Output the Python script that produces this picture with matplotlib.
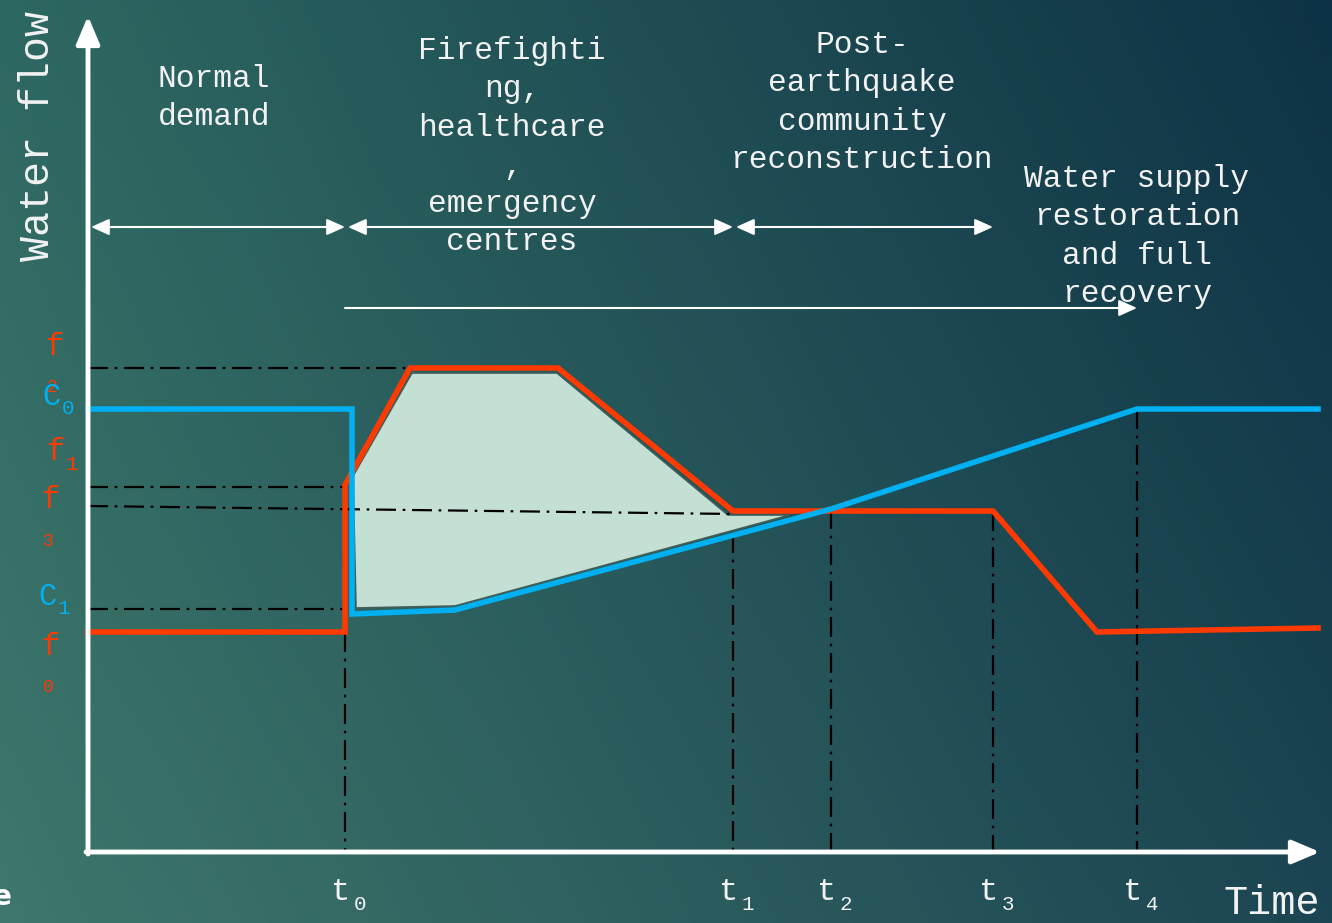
import numpy as np
import matplotlib.pyplot as plt

# canvas is laid out in pixel units (x right, y down)
W, H = 1332, 923

# time marks on the horizontal axis
t_labels = ["0", "1", "2", "3", "4"]
t_x = [345, 733, 831, 993, 1137]
t_y_top = [632, 533, 509, 511, 409]  # where each dash-dot drop line starts

# water demand f (red) and supply capacity C (blue)
red_x = [88, 345, 345, 410, 558, 733, 993, 1097, 1318]
red_y = [632, 632, 485, 368, 368, 511, 511, 632, 628]
blue_x = [88, 352, 352, 455, 831, 1137, 1318]
blue_y = [409, 409, 614, 610, 509, 409, 409]

# shaded deficit region
fill_x = [353, 412, 557, 728, 790, 455, 356]
fill_y = [476, 373, 373, 515, 515, 606, 608]

# horizontal reference levels: (x_end, y_start, y_end)
ref_lines = [(410, 368, 368), (345, 487, 487), (735, 506, 514), (345, 609, 609)]

# phase arrows
phase_bounds = [88, 345, 733, 993]
phase_y = 227
long_arrow = (345, 1137, 308)

phase_texts = [
    (214, 78, "Normal\ndemand"),
    (512, 50, "Firefighti\nng,\nhealthcare\n,\nemergency\ncentres"),
    (862, 44, "Post-\nearthquake\ncommunity\nreconstruction"),
    (1137, 178, "Water supply\nrestoration\nand full\nrecovery"),
]

# level labels on the left: (x, y, main, sub, colour, sub position)
RED = "#ff3a00"
BLUE = "#00b0f0"
level_labels = [
    (55, 347, "f", "2", RED, "below"),
    (52, 397, "C", "0", BLUE, "right"),
    (56, 452, "f", "1", RED, "right"),
    (51, 500, "f", "3", RED, "below"),
    (48, 597, "C", "1", BLUE, "right"),
    (51, 647, "f", "0", RED, "below"),
]

MONO = "Liberation Mono"

fig = plt.figure(figsize=(W / 100, H / 100), dpi=100)
ax = fig.add_axes([0, 0, 1, 1])
ax.set_xlim(0, W)
ax.set_ylim(H, 0)
ax.axis("off")

# diagonal gradient background
c_tl = np.array([0x2e, 0x68, 0x62]) / 255
c_bl = np.array([0x3e, 0x77, 0x6b]) / 255
c_tr = np.array([0x0e, 0x32, 0x45]) / 255
c_br = np.array([0x1b, 0x45, 0x52]) / 255
u = np.linspace(0, 1, 200)[None, :, None]
v = np.linspace(0, 1, 140)[:, None, None]
grad = (1 - u) * ((1 - v) * c_tl + v * c_bl) + u * ((1 - v) * c_tr + v * c_br)
ax.imshow(grad, extent=[0, W, H, 0], aspect="auto", zorder=0, interpolation="bilinear")

# shaded region
ax.fill(fill_x, fill_y, facecolor="#c4dfd4", edgecolor="#3f5f5a", lw=1.2, zorder=2)

dash = (0, (9, 3, 1.2, 3))
for x_end, y0, y1 in ref_lines:
    ax.plot([88, x_end], [y0, y1], color="black", lw=1.6, ls=dash, zorder=3)
for x, yt in zip(t_x, t_y_top):
    ax.plot([x, x], [yt, 852], color="black", lw=1.6, ls=dash, zorder=3)

ax.plot(red_x, red_y, color=RED, lw=4, solid_joinstyle="miter", zorder=4)
ax.plot(blue_x, blue_y, color=BLUE, lw=4, solid_joinstyle="miter", zorder=5)

# axes with arrow heads
ax.annotate("", xy=(88, 16), xytext=(88, 854),
            arrowprops=dict(arrowstyle="-|>,head_length=1.3,head_width=0.55",
                            color="white", lw=3.5, mutation_scale=13,
                            shrinkA=0, shrinkB=0), zorder=6)
ax.annotate("", xy=(1320, 852), xytext=(86, 852),
            arrowprops=dict(arrowstyle="-|>,head_length=1.3,head_width=0.55",
                            color="white", lw=3.5, mutation_scale=13,
                            shrinkA=0, shrinkB=0), zorder=6)

# phase arrows
for a, b in zip(phase_bounds[:-1], phase_bounds[1:]):
    ax.annotate("", xy=(b, phase_y), xytext=(a + 3, phase_y),
                arrowprops=dict(arrowstyle="<|-|>,head_length=1.0,head_width=0.45",
                                color="white", lw=1.5, mutation_scale=11,
                                shrinkA=0, shrinkB=0), zorder=6)
ax.annotate("", xy=(long_arrow[1], long_arrow[2]), xytext=(long_arrow[0], long_arrow[2]),
            arrowprops=dict(arrowstyle="-|>,head_length=1.0,head_width=0.45",
                            color="white", lw=1.5, mutation_scale=11,
                            shrinkA=0, shrinkB=0), zorder=6)

for x, y, s in phase_texts:
    ax.text(x, y - 14, s, family=MONO, fontsize=22.5, color="#f2f2f2",
            ha="center", va="top", linespacing=1.36, zorder=7)

# time ticks
for lab, x in zip(t_labels, t_x):
    ax.text(x - 4, 892, "t", family=MONO, fontsize=23, color="#f2f2f2",
            ha="center", va="center", zorder=7)
    ax.text(x + 15, 904, lab, family=MONO, fontsize=15, color="#f2f2f2",
            ha="center", va="center", zorder=7)

ax.text(1272, 903, "Time", family=MONO, fontsize=29, color="#f2f2f2",
        ha="center", va="center", zorder=7)
ax.text(38, 136, "Water flow", family=MONO, fontsize=30, color="#f2f2f2",
        rotation=90, ha="center", va="center", zorder=7)
ax.text(-7, 897, "e", family="DejaVu Sans", fontsize=20, fontweight="bold",
        color="white", ha="left", va="center", zorder=7)

for x, y, main, sub, col, where in level_labels:
    ax.text(x, y, main, family=MONO, fontsize=22, color=col,
            ha="center", va="center", zorder=7)
    if where == "right":
        ax.text(x + 16, y + 12, sub, family=MONO, fontsize=15, color=col,
                ha="center", va="center", zorder=7)
    else:
        ax.text(x - 3, y + 41, sub, family=MONO, fontsize=13, color=col,
                ha="center", va="center", zorder=7)

fig.savefig("out.png", dpi=100)
